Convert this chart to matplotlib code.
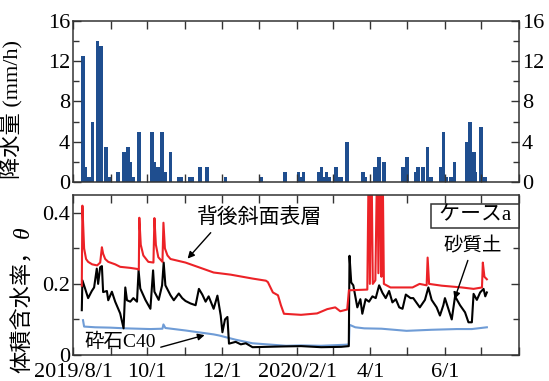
import numpy as np
import pandas as pd
import matplotlib
matplotlib.use("Agg")
import matplotlib.pyplot as plt
import matplotlib.dates as mdates

plt.rcParams["font.family"] = ["Liberation Serif", "Noto Sans CJK JP"]

START = pd.Timestamp("2019-08-01")
END = pd.Timestamp("2020-08-01")

# rainfall (mm/h)
rain_dates = ["2019-08-09", "2019-08-11", "2019-08-14", "2019-08-17", "2019-08-21", "2019-08-22",
              "2019-08-24", "2019-08-28", "2019-08-31", "2019-09-07", "2019-09-12", "2019-09-15",
              "2019-09-17", "2019-09-19", "2019-09-24", "2019-10-05", "2019-10-07", "2019-10-09",
              "2019-10-10", "2019-10-13", "2019-10-16", "2019-10-20", "2019-10-27", "2019-10-29",
              "2019-11-05", "2019-11-07", "2019-11-13", "2019-11-19", "2019-12-04", "2020-01-02",
              "2020-01-22", "2020-02-02", "2020-02-04", "2020-02-06", "2020-02-19", "2020-02-21",
              "2020-02-23", "2020-02-25", "2020-02-27", "2020-03-04", "2020-03-06", "2020-03-08",
              "2020-03-13", "2020-03-26", "2020-03-28", "2020-04-05", "2020-04-08", "2020-04-12",
              "2020-04-28", "2020-05-01", "2020-05-08", "2020-05-10", "2020-05-14", "2020-05-18",
              "2020-05-21", "2020-05-29", "2020-05-31", "2020-06-02", "2020-06-06", "2020-06-09",
              "2020-06-19", "2020-06-22", "2020-06-25", "2020-06-26", "2020-07-01", "2020-07-04"]
rain_vals = [12.5, 1.5, 0.5, 6.0, 14.0, 6.0,
             13.5, 3.5, 0.5, 1.0, 3.0, 3.5,
             2.0, 0.5, 5.0, 5.0, 2.0, 0.5,
             1.5, 5.0, 1.0, 3.0, 0.5, 0.5,
             0.5, 0.5, 1.5, 1.5, 0.5, 0.5,
             1.0, 1.0, 0.5, 1.0, 1.0, 1.5,
             0.5, 1.0, 0.5, 1.5, 0.5, 0.5,
             4.0, 1.0, 0.5, 1.5, 2.5, 2.0,
             1.5, 2.5, 1.0, 1.5, 1.5, 3.5,
             0.5, 1.5, 5.0, 0.5, 0.5, 2.0,
             4.0, 6.0, 3.0, 1.0, 5.5, 0.5]

# volumetric water content (days since 2019/8/1, theta)
red_days = [7.2, 7.7, 9.1, 10.7, 12.4, 15.7, 19.8, 22.3, 23.7, 24.7, 26.4, 28.9, 34.6, 38.7, 47,
            52.8, 54, 54.4, 55.6, 57.7, 61.8, 66, 66.8, 68, 70, 73.4, 74.2, 75.4, 77.5, 80,
            92.3, 104.7, 115.4, 129.4, 147.3, 158.3, 159.9, 164, 168.2, 170.6, 173.1, 187.1,
            200.3, 208.6, 215.2, 219.3, 225, 226.4, 241.5, 242.8, 243.6, 244.8, 246, 248.1,
            249.8, 250.6, 252.3, 253.1, 253.9, 255.1, 260.5, 278.6, 284.4, 290.2, 291, 292.2,
            302.5, 319, 328.7, 335.6, 336.3, 337.6, 339.6]
red_vals = [0.195, 0.42, 0.30, 0.27, 0.262, 0.255, 0.252, 0.26, 0.303, 0.285, 0.27, 0.262, 0.255,
            0.248, 0.245, 0.242, 0.24, 0.386, 0.31, 0.28, 0.262, 0.26, 0.385, 0.31, 0.275, 0.262,
            0.372, 0.30, 0.28, 0.27, 0.26, 0.245, 0.232, 0.226, 0.215, 0.209, 0.205, 0.176,
            0.168, 0.14, 0.116, 0.113, 0.117, 0.129, 0.134, 0.123, 0.128, 0.182, 0.184, 0.6,
            0.2, 0.6, 0.2, 0.21, 0.6, 0.23, 0.6, 0.22, 0.6, 0.2, 0.19, 0.19, 0.2, 0.196, 0.274,
            0.2, 0.195, 0.19, 0.186, 0.19, 0.26, 0.22, 0.213]

black_days = [7.2, 7.7, 9.9, 12.4, 15.4, 17.3, 19.5, 20.6, 22.3, 23.7, 24.7, 27.8, 28.9, 31.9,
              34.6, 38.7, 41.5, 42.9, 44.3, 47, 49.5, 52.5, 53.8, 55.2, 59.4, 63.5, 65.7, 66.8,
              70.3, 73.1, 74.4, 75.8, 80, 82.7, 86.8, 89.6, 92.3, 96.4, 100.6, 103.3, 106.1,
              108.8, 111.3, 115.4, 118.5, 121.2, 122.6, 124.7, 126.7, 128, 133.5, 137.7, 141.8,
              147.3, 170.6, 187.1, 203.6, 220.1, 226.3, 226.9, 228.3, 230, 233.3, 235.8, 237.4,
              240.1, 242.9, 245.7, 248.4, 251.2, 253.9, 256.6, 259.4, 262.1, 264.9, 267.7,
              270.4, 273.1, 277, 279.2, 284.6, 288.8, 291.6, 294.3, 298.4, 301.1, 303.9, 305.2,
              308, 310.8, 313.5, 317.6, 321.7, 324.5, 327.3, 328.7, 331.4, 334.1, 336.9, 338.3,
              339.6]
black_vals = [0.126, 0.21, 0.187, 0.16, 0.18, 0.19, 0.243, 0.2, 0.247, 0.25, 0.177, 0.18, 0.154,
              0.178, 0.15, 0.117, 0.075, 0.19, 0.154, 0.15, 0.16, 0.15, 0.238, 0.187, 0.155,
              0.13, 0.238, 0.178, 0.155, 0.196, 0.26, 0.196, 0.168, 0.154, 0.173, 0.16, 0.152,
              0.145, 0.14, 0.186, 0.17, 0.15, 0.165, 0.13, 0.167, 0.111, 0.064, 0.1, 0.107,
              0.032, 0.037, 0.03, 0.033, 0.022, 0.024, 0.025, 0.022, 0.023, 0.025, 0.279, 0.204,
              0.196, 0.134, 0.157, 0.116, 0.157, 0.15, 0.165, 0.16, 0.196, 0.175, 0.16, 0.18,
              0.148, 0.157, 0.134, 0.13, 0.17, 0.16, 0.16, 0.134, 0.155, 0.19, 0.155, 0.134,
              0.111, 0.14, 0.16, 0.13, 0.1, 0.165, 0.14, 0.12, 0.092, 0.092, 0.172, 0.155, 0.176,
              0.186, 0.165, 0.176]

blue_days = [8.2, 9.1, 18.1, 30.5, 42.9, 63.5, 73.4, 74.2, 75.8, 92.3, 115.4, 119.8, 133.5,
             147.3, 174.8, 187.1, 203.6, 224.2, 226.4, 226.9, 231.6, 239, 253.1, 273.7, 294.3,
             314.9, 327.3, 339.6]
blue_vals = [0.098, 0.08, 0.078, 0.077, 0.075, 0.073, 0.074, 0.086, 0.076, 0.069, 0.058, 0.055,
             0.043, 0.033, 0.026, 0.027, 0.026, 0.029, 0.03, 0.085, 0.078, 0.075, 0.074, 0.068,
             0.071, 0.073, 0.073, 0.078]


def to_dates(days):
    return START + pd.to_timedelta(np.asarray(days, float), unit="D")


def label_fmt(x, pos):
    d = mdates.num2date(x)
    if d.month % 2 == 1 or d.year == 2020 and d.month == 8:
        return ""
    if d.month == 8 and d.year == 2019:
        return "2019/8/1"
    if d.month == 2 and d.year == 2020:
        return "2020/2/1"
    return f"{d.month}/1"


def style(ax):
    ax.set_xlim(START, END)
    ax.xaxis.set_major_locator(mdates.MonthLocator())
    ax.tick_params(which="both", direction="in", top=True, right=True, labelsize=16,
                   color="#333333", width=1)
    ax.tick_params(which="major", length=6)
    ax.tick_params(which="minor", length=4)
    for s in ax.spines.values():
        s.set_color("#333333")
        s.set_linewidth(1.1)


fig = plt.figure(figsize=(5.49, 3.81), dpi=100)
ax1 = fig.add_axes([0.133, 0.5223, 0.8124, 0.4226])
ax2 = fig.add_axes([0.133, 0.0682, 0.8124, 0.42])

ax1.bar(pd.to_datetime(rain_dates), rain_vals, width=3.0, color="#1f4e8f", align="center")
style(ax1)
ax1.set_ylim(0, 16)
ax1.set_yticks([0, 4, 8, 12, 16])
ax1.set_yticks([2, 6, 10, 14], minor=True)
ax1.tick_params(labelbottom=False, labelright=True, pad=2)
ax1.set_ylabel("降水量 (mm/h)", fontsize=16)
ax1.yaxis.set_label_coords(-0.112, 0.45)

ax2.plot(to_dates(blue_days), blue_vals, color="#6f9cd6", lw=1.5)
ax2.plot(to_dates(black_days), black_vals, color="k", lw=1.5)
ax2.plot(to_dates(red_days), red_vals, color="#ec2227", lw=1.5)
style(ax2)
ax2.set_ylim(0, 0.45)
ax2.set_yticks([0, 0.2, 0.4])
ax2.set_yticklabels(["0", "0.2", "0.4"])
ax2.set_yticks([0.1, 0.3], minor=True)
ax2.xaxis.set_major_formatter(plt.FuncFormatter(label_fmt))
ax2.tick_params(axis="x", pad=6)
ax2.tick_params(axis="y", pad=2)

arrow = dict(arrowstyle="-|>", color="k", lw=1, mutation_scale=10, shrinkA=0, shrinkB=0)
tk = lambda d: mdates.date2num(START + pd.Timedelta(days=d))
ax2.text(tk(153), 0.386, "背後斜面表層", fontsize=15, ha="center", va="center")
ax2.annotate("", xy=(tk(94), 0.271), xytext=(tk(113), 0.344), arrowprops=arrow)
ax2.text(tk(38.5), 0.036, "砕石C40", fontsize=14, ha="center", va="center")
ax2.annotate("", xy=(tk(108), 0.056), xytext=(tk(72), 0.022), arrowprops=arrow)
ax2.text(tk(328), 0.305, "砂質土", fontsize=14, ha="center", va="center")
ax2.annotate("", xy=(tk(313), 0.157), xytext=(tk(324), 0.266), arrowprops=arrow)
ax2.text(tk(330), 0.392, " ケースa ", fontsize=15, ha="center", va="center",
         bbox=dict(boxstyle="square,pad=0.12", fc="white", ec="#333333", lw=1.1))

# y label of lower panel: CJK part + italic theta
ylab = fig.text(23 / 549, 8 / 381, "体積含水率，", fontsize=16, rotation=90,
                ha="center", va="bottom")
fig.canvas.draw()
bb = ylab.get_window_extent()
fig.text(23 / 549, (bb.y1 + 1) / 381, "θ", fontsize=17, rotation=90, style="italic",
         family="Liberation Serif", ha="center", va="bottom")

fig.savefig("out.png", dpi=100)
